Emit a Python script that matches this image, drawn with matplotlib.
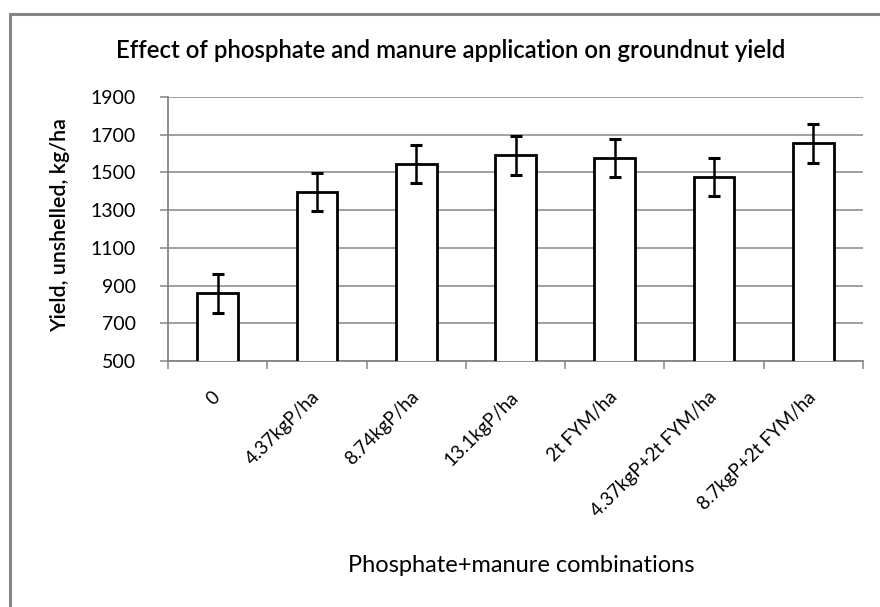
import matplotlib.pyplot as plt
import numpy as np
from matplotlib.patches import Rectangle

plt.rcParams['font.family'] = ['Lato', 'DejaVu Sans']

# Data
categories = ['0', '4.37kgP/ha', '8.74kgP/ha', '13.1kgP/ha', '2t FYM/ha',
              '4.37kgP+2t FYM/ha', '8.7kgP+2t FYM/ha']
yields = [860, 1395, 1545, 1590, 1578, 1477, 1655]
errors = [103, 102, 102, 103, 100, 101, 103]
y_ticks = [500, 700, 900, 1100, 1300, 1500, 1700, 1900]

grey = '#868686'

fig = plt.figure(figsize=(8.8, 6.07), dpi=100)

# grey frame around the chart (only top and left edges visible)
fig.patches.append(Rectangle((10 / 880, -0.05), 1.2, 1 - 14 / 607 + 0.05,
                             transform=fig.transFigure, fill=False,
                             edgecolor=grey, linewidth=2.2))

ax = fig.add_axes([168 / 880, 1 - 361 / 607, 695 / 880, 264 / 607])

x = np.arange(len(categories))
ax.bar(x, yields, width=0.41, bottom=0, color='white', edgecolor='black',
       linewidth=2.0, zorder=3)
ax.errorbar(x, yields, yerr=errors, fmt='none', ecolor='black',
            elinewidth=1.8, capsize=4.5, capthick=2.2, zorder=4)

ax.set_xlim(-0.5, len(categories) - 0.5)
ax.set_ylim(500, 1900)
ax.set_yticks(y_ticks)
ax.set_yticklabels([str(v) for v in y_ticks])
ax.yaxis.grid(True, color=grey, linewidth=1.1, zorder=0)

# tick marks at category boundaries, labels at centres
ax.set_xticks(x)
ax.set_xticklabels(categories, rotation=45, ha='right', va='center',
                   rotation_mode='anchor', fontsize=13.5)
ax.set_xticks(np.arange(-0.5, len(categories), 1), minor=True)
ax.tick_params(axis='x', which='major', length=0, pad=24)
ax.tick_params(axis='x', which='minor', length=6, color=grey, width=1.1)
ax.tick_params(axis='y', length=6, color=grey, width=1.1, labelsize=14, pad=17)

for side in ['top', 'right']:
    ax.spines[side].set_visible(False)
for side in ['left', 'bottom']:
    ax.spines[side].set_color(grey)
    ax.spines[side].set_linewidth(1.3)

fig.text(60 / 880, 1 - 225 / 607, 'Yield, unshelled, kg/ha', rotation=90,
         ha='center', va='center', fontsize=15.4, fontweight='semibold')
fig.text(451 / 880, 1 - 50 / 607,
         'Effect of phosphate and manure application on groundnut yield',
         ha='center', va='center', fontsize=17.2, fontweight='semibold')
fig.text(521 / 880, 1 - 566 / 607, 'Phosphate+manure combinations',
         ha='center', va='center', fontsize=17)

plt.savefig('out.png', dpi=100)
